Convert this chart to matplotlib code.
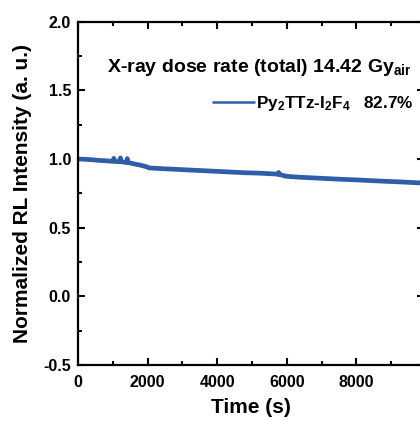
import matplotlib
matplotlib.use("Agg")
import matplotlib.pyplot as plt
from matplotlib.ticker import MultipleLocator

plt.rcParams['font.family'] = ['Liberation Sans', 'DejaVu Sans']
plt.rcParams['font.weight'] = 'bold'
plt.rcParams['mathtext.fontset'] = 'custom'
plt.rcParams['mathtext.rm'] = 'Liberation Sans:bold'
plt.rcParams['mathtext.bf'] = 'Liberation Sans:bold'
plt.rcParams['mathtext.it'] = 'Liberation Sans:bold'
plt.rcParams['mathtext.default'] = 'bf'

# data
time_s = [0, 200, 400, 600, 800, 1000, 1030, 1060, 1200, 1220, 1240, 1400, 1415, 1430,
          1600, 1800, 1950, 2050, 2400, 2800, 3200, 3600, 4000, 4400, 4800, 5200,
          5600, 5750, 5765, 5780, 5950, 6100, 6400, 6800, 7200, 7600, 8000, 8400,
          8800, 9200, 9600, 9940]
intensity = [1.00, 0.998, 0.995, 0.99, 0.987, 0.983, 1.005, 0.983, 0.98, 1.008, 0.98,
             0.975, 1.003, 0.975, 0.965, 0.955, 0.945, 0.935, 0.93, 0.925, 0.92,
             0.915, 0.91, 0.905, 0.90, 0.897, 0.892, 0.889, 0.902, 0.889, 0.876,
             0.872, 0.867, 0.862, 0.857, 0.852, 0.848, 0.843, 0.838, 0.834, 0.829, 0.825]
series_label = "Py$_2$TTz-I$_2$F$_4$   82.7%"
annotation = "X-ray dose rate (total) 14.42 Gy$_{air}$"
xticks = [0, 2000, 4000, 6000, 8000]
yticks = [-0.5, 0.0, 0.5, 1.0, 1.5, 2.0]
ytick_labels = ['-0.5', '0.0', '0.5', '1.0', '1.5', '2.0']

fig = plt.figure(figsize=(4.2, 4.21), dpi=100)
ax = fig.add_axes([78/420, 1-365/421, (424-78)/420, (365-21.7)/421])

ax.plot(time_s, intensity, color='#2E5EA8', lw=3.4, solid_joinstyle='round',
        solid_capstyle='butt', label=series_label)

ax.set_xlim(0, 9943)
ax.set_ylim(-0.5, 2.0)
ax.set_xticks(xticks)
ax.set_yticks(yticks)
ax.set_yticklabels(ytick_labels)
ax.xaxis.set_minor_locator(MultipleLocator(1000))
ax.yaxis.set_minor_locator(MultipleLocator(0.25))
ax.tick_params(which='both', direction='in', top=True, right=True, width=1.5,
               labelsize=11.5)
ax.tick_params(axis='x', which='both', pad=7)
ax.tick_params(axis='y', which='both', pad=5)
ax.tick_params(which='major', length=5)
ax.tick_params(which='minor', length=3)
for s in ax.spines.values():
    s.set_linewidth(1.6)

ax.set_xlabel('Time (s)', fontsize=15, fontweight='bold', labelpad=6)
ax.set_ylabel('Normalized RL Intensity (a. u.)', fontsize=15, fontweight='bold', labelpad=8)

fig.text(107/420, 1-68/421, annotation, fontsize=14, fontweight='bold', va='center', ha='left')
leg = ax.legend(loc='upper left', bbox_to_anchor=((212-78)/346, 1-(94-21.7)/343.3),
                frameon=False, fontsize=12.3, handlelength=2.5, handletextpad=0.05,
                borderpad=0, borderaxespad=0)
for h in leg.get_lines():
    h.set_linewidth(1.8)

fig.savefig('out.png', dpi=100)
